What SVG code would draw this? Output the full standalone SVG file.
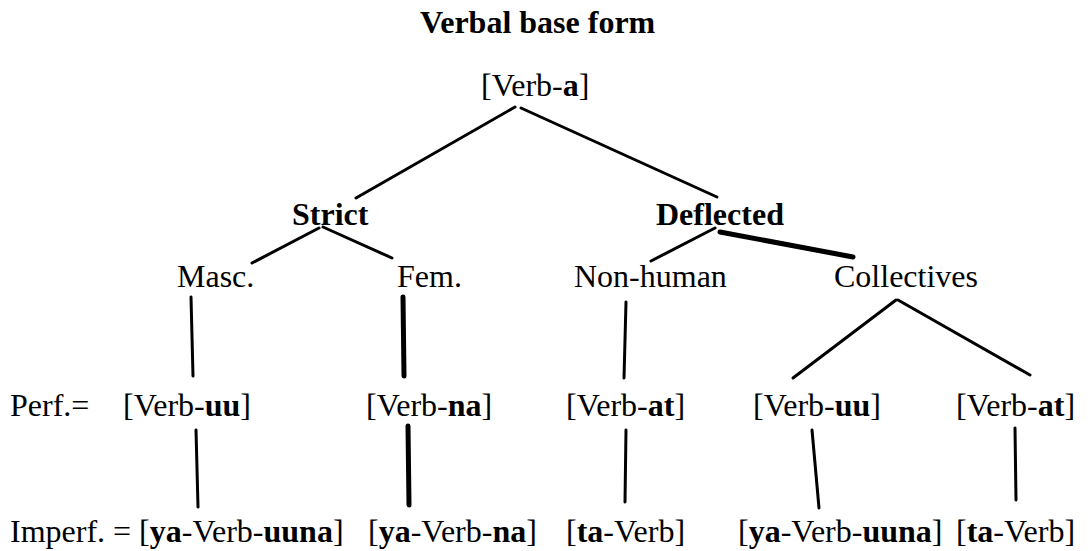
<svg xmlns="http://www.w3.org/2000/svg" width="1091" height="551" viewBox="0 0 1091 551">
<style>
text{font-family:"Liberation Serif","Times New Roman",serif;font-size:32px;fill:#000}
.b{font-weight:bold}
.c line{stroke:#000;stroke-width:3;stroke-linecap:round}
.c line.thick{stroke-width:5}
</style>
<rect width="1091" height="551" fill="#fff"/>
<g id="title"><text x="420" y="33" class="b">Verbal base form</text></g>
<g id="root"><text x="481" y="96">[Verb-<tspan class="b">a</tspan>]</text></g>
<g id="strict"><text x="292" y="225" class="b">Strict</text></g>
<g id="deflected"><text x="656" y="225" class="b">Deflected</text></g>
<g id="masc"><text x="177" y="287">Masc.</text></g>
<g id="fem"><text x="397" y="287">Fem.</text></g>
<g id="nonhuman"><text x="574" y="287">Non-human</text></g>
<g id="collectives"><text x="834" y="287">Collectives</text></g>
<g id="perf-label"><text x="10" y="416">Perf.=</text></g>
<g id="perf-masc"><text x="123" y="416">[Verb-<tspan class="b">uu</tspan>]</text></g>
<g id="perf-fem"><text x="366" y="416">[Verb-<tspan class="b">na</tspan>]</text></g>
<g id="perf-nonhuman"><text x="566" y="416">[Verb-<tspan class="b">at</tspan>]</text></g>
<g id="perf-coll-uu"><text x="753" y="416">[Verb-<tspan class="b">uu</tspan>]</text></g>
<g id="perf-coll-at"><text x="956" y="416">[Verb-<tspan class="b">at</tspan>]</text></g>
<g id="imperf-masc"><text x="10" y="542">Imperf. = [<tspan class="b">ya</tspan>-Verb-<tspan class="b">uuna</tspan>]</text></g>
<g id="imperf-fem"><text x="368" y="542">[<tspan class="b">ya</tspan>-Verb-<tspan class="b">na</tspan>]</text></g>
<g id="imperf-nonhuman"><text x="566" y="542">[<tspan class="b">ta</tspan>-Verb]</text></g>
<g id="imperf-coll-uu"><text x="738" y="542">[<tspan class="b">ya</tspan>-Verb-<tspan class="b">uuna</tspan>]</text></g>
<g id="imperf-coll-at"><text x="956" y="542">[<tspan class="b">ta</tspan>-Verb]</text></g>
<g id="connectors" class="c">
<line x1="515" y1="107" x2="356" y2="198"/>
<line x1="521" y1="108" x2="717" y2="197"/>
<line x1="319" y1="228" x2="252" y2="263"/>
<line x1="323" y1="227" x2="392" y2="258"/>
<line x1="715" y1="228" x2="651" y2="261"/>
<line x1="720" y1="232" x2="853" y2="257" class="thick"/>
<line x1="191" y1="297" x2="193" y2="376"/>
<line x1="403" y1="297" x2="404" y2="376" class="thick"/>
<line x1="626" y1="302" x2="624" y2="378"/>
<line x1="896" y1="300" x2="793" y2="378"/>
<line x1="898" y1="300" x2="1030" y2="375"/>
<line x1="196" y1="430" x2="198" y2="507"/>
<line x1="408" y1="426" x2="409" y2="505" class="thick"/>
<line x1="626" y1="430" x2="625" y2="502"/>
<line x1="812" y1="430" x2="819" y2="508"/>
<line x1="1015" y1="428" x2="1016" y2="500"/>
</g>
</svg>
